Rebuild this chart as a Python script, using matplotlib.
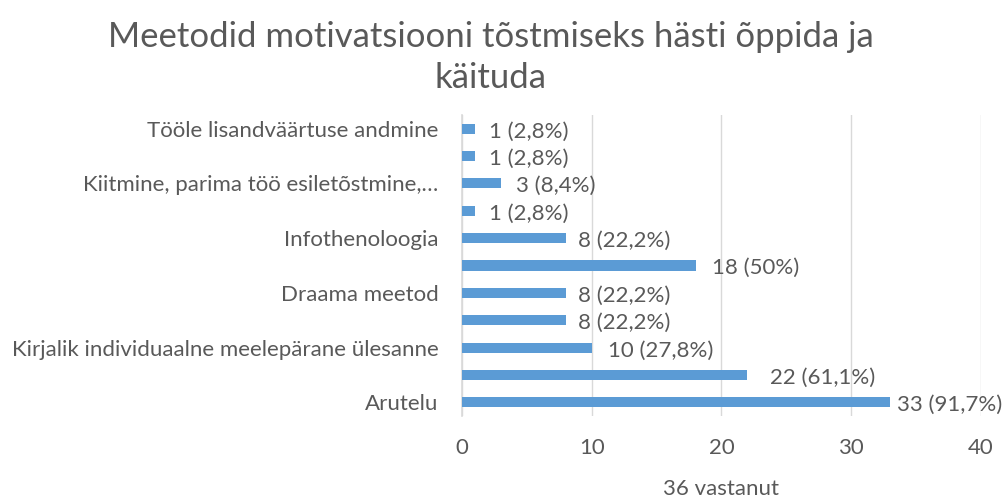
import matplotlib
matplotlib.use("Agg")
from matplotlib import pyplot as plt
import numpy as np

plt.rcParams['font.family'] = ['Lato', 'DejaVu Sans']

TITLE = 'Meetodid motivatsiooni tõstmiseks hästi õppida ja\nkäituda'
XLABEL = '36 vastanut'

# bottom to top, as the chart shows them; only every other label is printed
categories = [
	'Arutelu',
	'',
	'Kirjalik individuaalne meelepärane ülesanne',
	'',
	'Draama meetod',
	'',
	'Infothenoloogia',
	'',
	'Kiitmine, parima töö esiletõstmine,…',
	'',
	'Tööle lisandväärtuse andmine',
]
counts = [33, 22, 10, 8, 8, 18, 8, 1, 3, 1, 1]
percents = ['91,7%', '61,1%', '27,8%', '22,2%', '22,2%', '50%', '22,2%', '2,8%', '8,4%', '2,8%', '2,8%']
x_ticks = [0, 10, 20, 30, 40]

BAR_COLOR = '#5b9bd5'
TEXT_COLOR = '#595959'
GRID_COLOR = '#d9d9d9'
FS = 16

fig = plt.figure(figsize=(10.03, 4.98), dpi=100)
ax = fig.add_axes([0.4606, 0.1647, 0.978 - 0.4606, 0.769 - 0.1647])

y = np.arange(len(counts))
ax.barh(y, counts, height=0.37, color=BAR_COLOR, zorder=3)

ax.set_xlim(0, 40)
ax.set_ylim(-0.5, len(counts) - 0.5)
ax.set_xticks(x_ticks)
ax.set_xticklabels([str(t) for t in x_ticks], fontsize=FS, color=TEXT_COLOR)
ax.set_yticks(y)
ax.set_yticklabels(categories, fontsize=FS, color=TEXT_COLOR)
ax.tick_params(axis='both', length=0)
ax.tick_params(axis='y', pad=17)
ax.tick_params(axis='x', pad=16)

ax.grid(axis='x', color=GRID_COLOR, linewidth=1, zorder=0)
for side in ['top', 'right', 'bottom']:
	ax.spines[side].set_visible(False)
ax.spines['left'].set_color(GRID_COLOR)
ax.spines['left'].set_linewidth(1.2)

# data labels, gap after bar end in points
gaps = [5, 16, 12, 9, 9, 12, 9, 10, 11, 10, 10]
for yi, c, p, g in zip(y, counts, percents, gaps):
	ax.annotate('{} ({})'.format(c, p), (c, yi), xytext=(g, -2), textcoords='offset points',
		ha='left', va='center', fontsize=FS, color=TEXT_COLOR)

ax.set_xlabel(XLABEL, fontsize=FS, color=TEXT_COLOR, labelpad=15)

fig.text(0.489, 0.958, TITLE, ha='center', va='top', fontsize=25, color=TEXT_COLOR,
	linespacing=1.35)

plt.savefig('out.png', dpi=100)
